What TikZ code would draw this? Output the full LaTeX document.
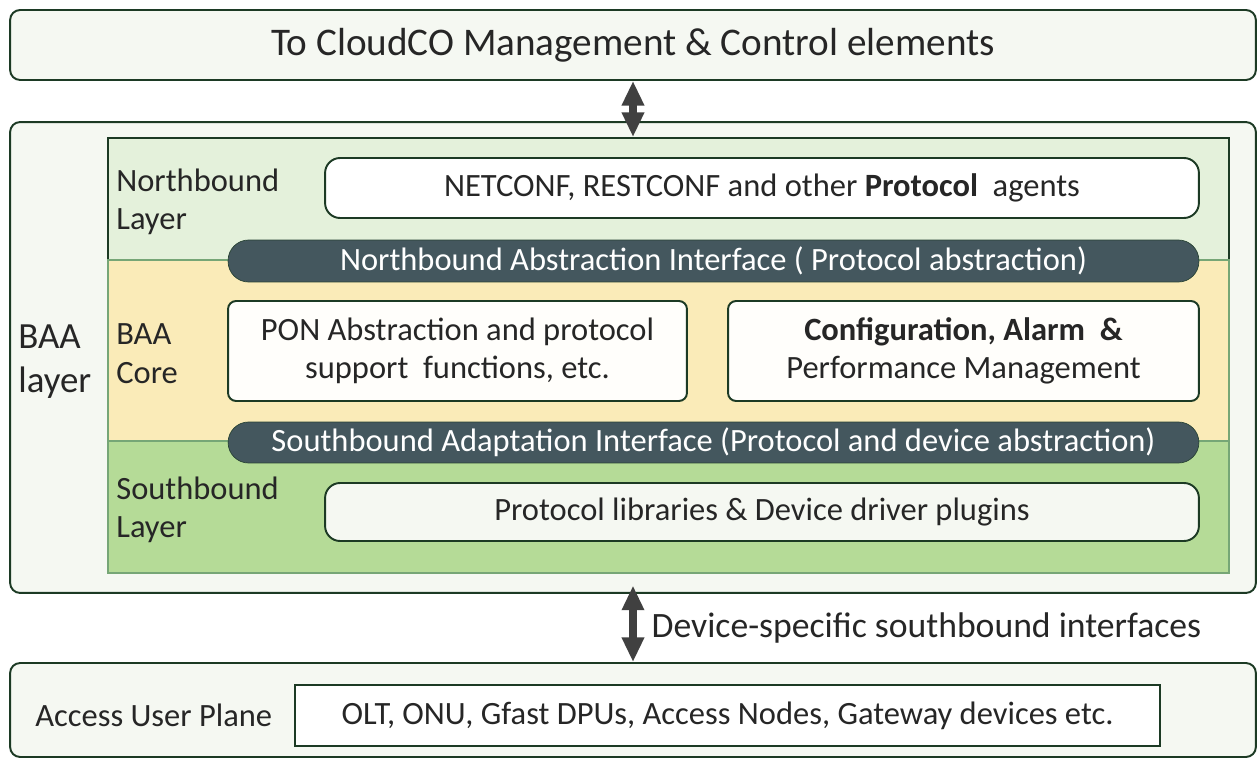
\documentclass[tikz,border=0pt]{standalone}
\usepackage{fontspec}
\setmainfont{Carlito}
\usetikzlibrary{arrows.meta}
\definecolor{baaframe}{HTML}{1C3A24}
\definecolor{baapale}{HTML}{F5F8F2}
\definecolor{nbgreen}{HTML}{E4F1DB}
\definecolor{coreyellow}{HTML}{FAEBB8}
\definecolor{sbgreen}{HTML}{B5DB97}
\definecolor{thingreen}{HTML}{76A676}
\definecolor{slate}{HTML}{44575E}
\definecolor{inktext}{HTML}{262626}
\definecolor{arrowgray}{HTML}{404040}

\begin{document}
\begin{tikzpicture}[x=0.02cm, y=-0.02cm, font=\fontsize{18.5}{22}\selectfont, text=inktext,
    outerbox/.style={draw=baaframe, line width=1.1pt, rounded corners=0.2cm, fill=baapale, inner sep=0pt},
    layerbox/.style={draw=thingreen, line width=0.8pt, inner sep=0pt, minimum width=22.42cm},
    funcbox/.style={draw=baaframe, line width=1.1pt, fill=white, inner sep=0pt, align=center},
    pill/.style={draw=baaframe!70!slate, fill=slate, text=white, rounded corners=0.41cm, inner sep=0pt,
      minimum width=19.42cm},
    layertext/.style={anchor=west, align=left, inner sep=0pt},
    updown/.style={{Triangle[length=14pt,width=12pt]}-{Triangle[length=14pt,width=12pt]},
      line width=4.5pt, arrowgray}]
        \useasboundingbox (0,0) rectangle (1259,760);
        % Management & control on top
        \node[outerbox, minimum width=24.92cm, minimum height=1.4cm, font=\fontsize{22.3}{26}\selectfont]
          (top) at (633, 45) {To CloudCO Management \& Control elements};
        % BAA layer frame
        \node[outerbox, minimum width=24.92cm, minimum height=9.42cm]
          (baa) at (633, 357.5) {};
        \node[layertext, font=\fontsize{21}{25}\selectfont] (baalabel) at (18, 362) {BAA\\layer};
        % Northbound, core and southbound layers
        \node[layerbox, fill=nbgreen, draw=baaframe, line width=1.1pt, minimum height=2.44cm]
          (nlayer) at (668.5, 199) {};
        \node[layerbox, fill=coreyellow, minimum height=3.62cm] (core) at (668.5, 350.5) {};
        \node[layerbox, fill=sbgreen, minimum height=2.64cm] (slayer) at (668.5, 507) {};
        \node[layertext] (nlabel) at (116, 202) {Northbound\\Layer};
        \node[layertext] (corelabel) at (116, 354) {BAA\\Core};
        \node[layertext] (slabel) at (116, 510) {Southbound\\Layer};
        % Function blocks
        \node[funcbox, rounded corners=0.3cm, minimum width=17.48cm, minimum height=1.2cm]
          (nbproto) at (762, 188) {NETCONF, RESTCONF and other \textbf{Protocol}\ \ agents};
        \node[pill, minimum height=0.84cm] (nbif) at (713.5, 261)
          {Northbound Abstraction Interface ( Protocol abstraction)};
        \node[funcbox, fill=white!70!coreyellow!20, rounded corners=0.16cm, minimum width=9.18cm, minimum height=2cm]
          (pon) at (457.5, 351) {PON Abstraction and protocol\\support\ \ functions, etc.};
        \node[funcbox, fill=white!70!coreyellow!20, rounded corners=0.16cm, minimum width=9.42cm, minimum height=2cm]
          (cfg) at (963.5, 351) {\textbf{Configuration, Alarm\ \ \&}\\Performance Management};
        \node[pill, minimum height=0.82cm] (sbif) at (713.5, 442.5)
          {Southbound Adaptation Interface (Protocol and device abstraction)};
        \node[funcbox, fill=baapale, rounded corners=0.3cm, minimum width=17.48cm, minimum height=1.16cm]
          (sbproto) at (762, 512) {Protocol libraries \& Device driver plugins};
        % Access user plane
        \node[outerbox, minimum width=24.92cm, minimum height=1.88cm] (user) at (633, 710) {};
        \node[layertext] (userlabel) at (35, 715) {Access User Plane};
        \node[funcbox, minimum width=17.3cm, minimum height=1.22cm]
          (olt) at (727.5, 715.5) {OLT, ONU, Gfast DPUs, Access Nodes, Gateway devices etc.};
        % Interfaces
        \draw[updown] (top.south) -- (top.south |- nlayer.north);
        \draw[updown, shorten >=6.8pt] (user.north) -- (user.north |- slayer.south)
          node[pos=0.39, right=5pt, text=inktext, font=\fontsize{20.3}{24}\selectfont] {Device-specific southbound interfaces};
      \end{tikzpicture}
\end{document}
